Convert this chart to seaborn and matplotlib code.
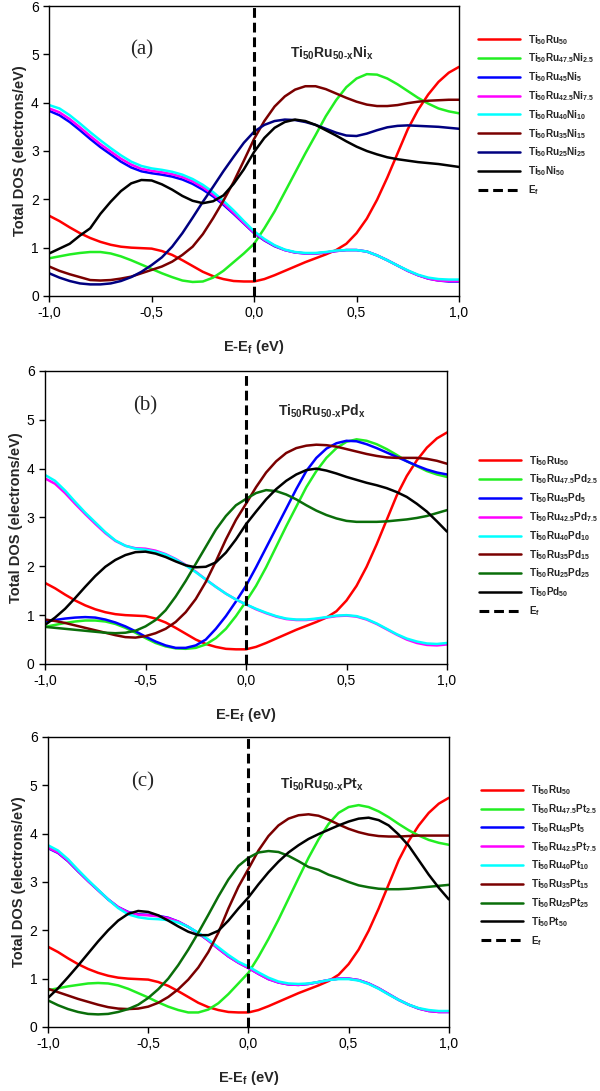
import matplotlib
matplotlib.use("Agg")
import matplotlib.pyplot as plt
import seaborn as sns

# ---------------------------------------------------------------------------
# Daten
# ---------------------------------------------------------------------------
ENERGY = [-1.00, -0.95, -0.90, -0.85, -0.80, -0.75, -0.70, -0.65, -0.60, -0.55,
          -0.50, -0.45, -0.40, -0.35, -0.30, -0.25, -0.20, -0.15, -0.10, -0.05,
          0.00, 0.05, 0.10, 0.15, 0.20, 0.25, 0.30, 0.35, 0.40, 0.45,
          0.50, 0.55, 0.60, 0.65, 0.70, 0.75, 0.80, 0.85, 0.90, 0.95, 1.00]

TI50RU50 = [1.66, 1.55, 1.42, 1.30, 1.20, 1.12, 1.06, 1.02, 1.00, 0.99,
            0.98, 0.93, 0.85, 0.74, 0.62, 0.50, 0.41, 0.35, 0.31, 0.30,
            0.30, 0.35, 0.43, 0.52, 0.61, 0.70, 0.78, 0.86, 0.95, 1.08,
            1.30, 1.60, 1.99, 2.45, 2.95, 3.45, 3.85, 4.17, 4.43, 4.62, 4.74]

# Panel (a) – Ni
NI_2_5 = [0.78, 0.82, 0.86, 0.89, 0.91, 0.91, 0.88, 0.82, 0.74, 0.65,
          0.56, 0.47, 0.39, 0.32, 0.29, 0.30, 0.38, 0.52, 0.70, 0.88,
          1.08, 1.40, 1.75, 2.15, 2.55, 2.95, 3.33, 3.72, 4.05, 4.32,
          4.50, 4.59, 4.58, 4.50, 4.38, 4.24, 4.10, 3.98, 3.88, 3.82, 3.78]
NI_5 = [3.83, 3.74, 3.60, 3.43, 3.25, 3.08, 2.93, 2.78, 2.66, 2.58,
        2.54, 2.51, 2.47, 2.41, 2.32, 2.20, 2.06, 1.89, 1.70, 1.50,
        1.30, 1.15, 1.03, 0.95, 0.90, 0.88, 0.88, 0.90, 0.93, 0.95,
        0.95, 0.92, 0.84, 0.74, 0.63, 0.52, 0.43, 0.36, 0.32, 0.30, 0.30]
NI_7_5 = [3.88, 3.80, 3.66, 3.49, 3.31, 3.14, 2.99, 2.84, 2.72, 2.63,
          2.59, 2.56, 2.52, 2.46, 2.37, 2.25, 2.10, 1.92, 1.72, 1.51,
          1.31, 1.16, 1.04, 0.95, 0.90, 0.88, 0.88, 0.90, 0.93, 0.95,
          0.95, 0.92, 0.84, 0.74, 0.63, 0.52, 0.43, 0.36, 0.32, 0.31, 0.31]
NI_10 = [3.95, 3.88, 3.74, 3.57, 3.39, 3.22, 3.06, 2.91, 2.78, 2.69,
         2.64, 2.61, 2.57, 2.51, 2.42, 2.30, 2.15, 1.97, 1.77, 1.55,
         1.34, 1.18, 1.05, 0.96, 0.91, 0.89, 0.89, 0.91, 0.94, 0.95,
         0.95, 0.92, 0.84, 0.74, 0.63, 0.53, 0.44, 0.38, 0.35, 0.34, 0.34]
NI_15 = [0.61, 0.52, 0.45, 0.39, 0.33, 0.32, 0.33, 0.36, 0.40, 0.47,
         0.54, 0.61, 0.71, 0.85, 1.02, 1.28, 1.61, 1.97, 2.36, 2.80,
         3.25, 3.62, 3.92, 4.13, 4.27, 4.34, 4.34, 4.28, 4.19, 4.10,
         4.02, 3.96, 3.93, 3.93, 3.95, 3.99, 4.02, 4.04, 4.05, 4.06, 4.06]
NI_25 = [0.47, 0.38, 0.31, 0.26, 0.24, 0.24, 0.26, 0.31, 0.39, 0.50,
         0.64, 0.80, 1.02, 1.30, 1.62, 1.95, 2.26, 2.58, 2.88, 3.17,
         3.40, 3.54, 3.62, 3.65, 3.64, 3.60, 3.54, 3.46, 3.38, 3.32,
         3.31, 3.36, 3.43, 3.49, 3.52, 3.53, 3.52, 3.51, 3.50, 3.48, 3.46]
NI_50 = [0.88, 0.98, 1.08, 1.25, 1.40, 1.70, 1.95, 2.17, 2.33, 2.40,
         2.39, 2.31, 2.20, 2.07, 1.97, 1.92, 1.96, 2.08, 2.32, 2.62,
         2.98, 3.27, 3.48, 3.60, 3.65, 3.62, 3.54, 3.43, 3.32, 3.20,
         3.09, 3.00, 2.93, 2.87, 2.83, 2.80, 2.77, 2.75, 2.73, 2.70, 2.67]

# Panel (b) – Pd
PD_2_5 = [0.76, 0.80, 0.84, 0.87, 0.89, 0.89, 0.87, 0.82, 0.74, 0.64,
          0.53, 0.43, 0.36, 0.32, 0.31, 0.33, 0.40, 0.53, 0.72, 0.98,
          1.28, 1.60, 1.98, 2.40, 2.82, 3.22, 3.62, 3.95, 4.22, 4.42,
          4.55, 4.60, 4.57, 4.50, 4.40, 4.28, 4.15, 4.05, 3.95, 3.88, 3.83]
PD_5 = [0.87, 0.90, 0.93, 0.95, 0.96, 0.95, 0.91, 0.85, 0.77, 0.67,
        0.56, 0.46, 0.38, 0.33, 0.33, 0.38, 0.50, 0.72, 0.98, 1.28,
        1.60, 1.98, 2.38, 2.78, 3.18, 3.58, 3.95, 4.22, 4.41, 4.52,
        4.57, 4.56, 4.50, 4.42, 4.33, 4.24, 4.15, 4.06, 3.98, 3.92, 3.88]
PD_7_5 = [3.80, 3.69, 3.50, 3.28, 3.07, 2.87, 2.68, 2.52, 2.42, 2.37,
          2.36, 2.32, 2.25, 2.15, 2.03, 1.89, 1.73, 1.58, 1.44, 1.32,
          1.22, 1.12, 1.04, 0.97, 0.92, 0.90, 0.90, 0.92, 0.95, 0.98,
          0.99, 0.97, 0.91, 0.82, 0.71, 0.60, 0.50, 0.43, 0.39, 0.38, 0.40]
PD_10 = [3.87, 3.75, 3.55, 3.32, 3.10, 2.90, 2.70, 2.53, 2.42, 2.36,
         2.34, 2.30, 2.24, 2.14, 2.02, 1.88, 1.73, 1.58, 1.44, 1.32,
         1.22, 1.13, 1.05, 0.98, 0.93, 0.91, 0.91, 0.93, 0.96, 0.99,
         1.00, 0.98, 0.92, 0.83, 0.72, 0.61, 0.52, 0.46, 0.42, 0.41, 0.43]
PD_15 = [0.91, 0.88, 0.84, 0.79, 0.74, 0.69, 0.64, 0.59, 0.55, 0.54,
         0.57, 0.63, 0.72, 0.86, 1.06, 1.33, 1.68, 2.10, 2.55, 2.95,
         3.28, 3.62, 3.92, 4.15, 4.32, 4.42, 4.47, 4.49, 4.48, 4.45,
         4.40, 4.35, 4.30, 4.26, 4.23, 4.22, 4.22, 4.22, 4.20, 4.16, 4.10]
PD_25 = [0.76, 0.74, 0.72, 0.70, 0.68, 0.66, 0.64, 0.63, 0.64, 0.68,
         0.77, 0.90, 1.10, 1.38, 1.70, 2.05, 2.40, 2.75, 3.03, 3.25,
         3.38, 3.50, 3.56, 3.54, 3.47, 3.37, 3.25, 3.14, 3.05, 2.98,
         2.93, 2.91, 2.91, 2.91, 2.92, 2.94, 2.96, 2.99, 3.03, 3.09, 3.15]
PD_50 = [0.80, 0.95, 1.13, 1.35, 1.58, 1.80, 1.99, 2.13, 2.23, 2.29,
         2.30, 2.26, 2.19, 2.10, 2.02, 1.98, 1.99, 2.08, 2.28, 2.55,
         2.86, 3.12, 3.37, 3.58, 3.75, 3.88, 3.97, 4.00, 3.96, 3.90,
         3.83, 3.77, 3.71, 3.66, 3.60, 3.52, 3.42, 3.28, 3.12, 2.92, 2.71]

# Panel (c) – Pt
PT_2_5 = [0.76, 0.80, 0.84, 0.87, 0.90, 0.91, 0.90, 0.86, 0.79, 0.70,
          0.61, 0.51, 0.42, 0.35, 0.30, 0.30, 0.36, 0.49, 0.68, 0.90,
          1.12, 1.45, 1.82, 2.22, 2.65, 3.08, 3.50, 3.88, 4.20, 4.43,
          4.55, 4.59, 4.55, 4.46, 4.34, 4.20, 4.07, 3.96, 3.87, 3.81, 3.77]
PT_5 = [3.70, 3.60, 3.43, 3.22, 3.02, 2.83, 2.64, 2.48, 2.38, 2.33,
        2.32, 2.30, 2.26, 2.18, 2.07, 1.94, 1.79, 1.62, 1.46, 1.33,
        1.22, 1.10, 0.99, 0.92, 0.88, 0.87, 0.89, 0.93, 0.97, 1.00,
        1.00, 0.97, 0.90, 0.80, 0.68, 0.56, 0.46, 0.38, 0.33, 0.31, 0.31]
PT_7_5 = [3.71, 3.61, 3.44, 3.23, 3.02, 2.83, 2.64, 2.48, 2.37, 2.32,
          2.31, 2.29, 2.25, 2.18, 2.07, 1.94, 1.79, 1.62, 1.46, 1.33,
          1.22, 1.10, 0.99, 0.92, 0.88, 0.87, 0.89, 0.93, 0.97, 1.00,
          1.00, 0.97, 0.90, 0.80, 0.68, 0.56, 0.46, 0.38, 0.33, 0.31, 0.31]
PT_10 = [3.76, 3.65, 3.47, 3.25, 3.04, 2.84, 2.64, 2.46, 2.33, 2.27,
         2.24, 2.23, 2.21, 2.16, 2.07, 1.95, 1.81, 1.65, 1.49, 1.35,
         1.25, 1.13, 1.02, 0.94, 0.90, 0.89, 0.90, 0.93, 0.97, 0.99,
         0.99, 0.96, 0.89, 0.79, 0.67, 0.56, 0.46, 0.39, 0.35, 0.33, 0.33]
PT_15 = [0.79, 0.72, 0.65, 0.58, 0.52, 0.46, 0.41, 0.38, 0.37, 0.38,
         0.42, 0.50, 0.62, 0.78, 0.98, 1.23, 1.55, 1.95, 2.45, 2.90,
         3.27, 3.65, 3.95, 4.17, 4.31, 4.38, 4.40, 4.37, 4.29, 4.19,
         4.10, 4.03, 3.98, 3.95, 3.94, 3.94, 3.95, 3.96, 3.96, 3.96, 3.96]
PT_25 = [0.55, 0.45, 0.37, 0.31, 0.27, 0.26, 0.27, 0.31, 0.37, 0.46,
         0.60, 0.78, 1.00, 1.28, 1.60, 1.95, 2.32, 2.70, 3.05, 3.33,
         3.50, 3.61, 3.64, 3.62, 3.54, 3.43, 3.31, 3.25, 3.15, 3.08,
         3.00, 2.93, 2.89, 2.86, 2.85, 2.85, 2.86, 2.88, 2.90, 2.92, 2.94]
PT_50 = [0.60, 0.80, 1.03, 1.27, 1.52, 1.77, 2.00, 2.20, 2.34, 2.40,
         2.38, 2.31, 2.20, 2.08, 1.97, 1.90, 1.90, 1.99, 2.20, 2.45,
         2.68, 2.95, 3.20, 3.42, 3.61, 3.76, 3.89, 3.99, 4.08, 4.17,
         4.25, 4.31, 4.33, 4.28, 4.17, 3.98, 3.75, 3.45, 3.15, 2.88, 2.64]

X_TICKS = [-1.0, -0.5, 0.0, 0.5, 1.0]
X_TICK_LABELS = ["-1,0", "-0,5", "0,0", "0,5", "1,0"]
Y_TICKS = [0, 1, 2, 3, 4, 5, 6]

COLORS_NI = ["#ff0000", "#22ee22", "#0000ff", "#ff00ff", "#00ffff",
             "#7a0000", "#000080", "#000000"]
COLORS_PD_PT = ["#ff0000", "#22ee22", "#0000ff", "#ff00ff", "#00ffff",
                "#7a0000", "#0a6e0a", "#000000"]


def alloy_labels(el):
    return [
        r"Ti$_{50}$Ru$_{50}$",
        rf"Ti$_{{50}}$Ru$_{{47.5}}${el}$_{{2.5}}$",
        rf"Ti$_{{50}}$Ru$_{{45}}${el}$_{{5}}$",
        rf"Ti$_{{50}}$Ru$_{{42.5}}${el}$_{{7.5}}$",
        rf"Ti$_{{50}}$Ru$_{{40}}${el}$_{{10}}$",
        rf"Ti$_{{50}}$Ru$_{{35}}${el}$_{{15}}$",
        rf"Ti$_{{50}}$Ru$_{{25}}${el}$_{{25}}$",
        rf"Ti$_{{50}}${el}$_{{50}}$",
    ]


PANELS = [
    dict(letter="(a)", el="Ni", colors=COLORS_NI,
         series=[TI50RU50, NI_2_5, NI_5, NI_7_5, NI_10, NI_15, NI_25, NI_50],
         rect=[0.082, 0.7287, 0.683, 0.2658], letter_pos=(-0.55, 5.10),
         title_pos=(0.175, 4.94), legend_pos=(0.797, 0.970)),
    dict(letter="(b)", el="Pd", colors=COLORS_PD_PT,
         series=[TI50RU50, PD_2_5, PD_5, PD_7_5, PD_10, PD_15, PD_25, PD_50],
         rect=[0.075, 0.3914, 0.670, 0.2686], letter_pos=(-0.50, 5.28),
         title_pos=(0.16, 5.09), legend_pos=(0.799, 0.584)),
    dict(letter="(c)", el="Pt", colors=COLORS_PD_PT,
         series=[TI50RU50, PT_2_5, PT_5, PT_7_5, PT_10, PT_15, PT_25, PT_50],
         rect=[0.080, 0.0587, 0.668, 0.2658], letter_pos=(-0.53, 5.07),
         title_pos=(0.156, 4.94), legend_pos=(0.802, 0.282)),
]

# ---------------------------------------------------------------------------
# Stil
# ---------------------------------------------------------------------------
sns.set_theme(style="ticks")
plt.rcParams["font.family"] = ["Liberation Sans", "DejaVu Sans"]
plt.rcParams["mathtext.fontset"] = "custom"
plt.rcParams["mathtext.rm"] = "Liberation Sans:bold"
plt.rcParams["mathtext.bf"] = "Liberation Sans:bold"
plt.rcParams["mathtext.it"] = "Liberation Sans:bold"
plt.rcParams["mathtext.default"] = "bf"

fig = plt.figure(figsize=(6.0, 10.91), dpi=100)

for p in PANELS:
    ax = fig.add_axes(p["rect"])
    labels = alloy_labels(p["el"])
    for vals, color, lab in zip(p["series"], p["colors"], labels):
        sns.lineplot(x=ENERGY, y=vals, color=color, linewidth=1.8,
                     label=lab, ax=ax)
    ax.axvline(0.0, color="black", linewidth=2.2, linestyle=(0, (3.2, 1.6)),
               label=r"E$_f$")

    ax.set_xlim(-1.0, 1.0)
    ax.set_ylim(0, 6)
    ax.set_xticks(X_TICKS)
    ax.set_xticklabels(X_TICK_LABELS)
    ax.set_yticks(Y_TICKS)
    ax.tick_params(direction="out", length=4, width=1, labelsize=10,
                   colors="black")
    for s in ax.spines.values():
        s.set_visible(True)
        s.set_linewidth(1.0)
        s.set_color("black")

    ax.set_xlabel(r"E-E$_f$ (eV)", fontsize=10.5, fontweight="bold",
                  labelpad=13)
    ax.set_ylabel("Total DOS (electrons/eV)", fontsize=10.5,
                  fontweight="bold", labelpad=3)

    ax.text(*p["letter_pos"], p["letter"], ha="center", va="center",
            fontsize=15, family=["Liberation Serif", "DejaVu Serif"])
    el = p["el"]
    ax.text(*p["title_pos"], rf"Ti$_{{50}}$Ru$_{{50\text{{-}}x}}${el}$_{{x}}$",
            ha="left", va="baseline", fontsize=10, fontweight="bold")

    ax.legend(loc="upper left", bbox_to_anchor=p["legend_pos"],
              bbox_transform=fig.transFigure, frameon=False,
              prop={"size": 7.2, "weight": "bold"}, handlelength=4.2,
              handletextpad=0.8, labelspacing=0.5, borderpad=0,
              borderaxespad=0)

fig.savefig("out.png", dpi=100)
